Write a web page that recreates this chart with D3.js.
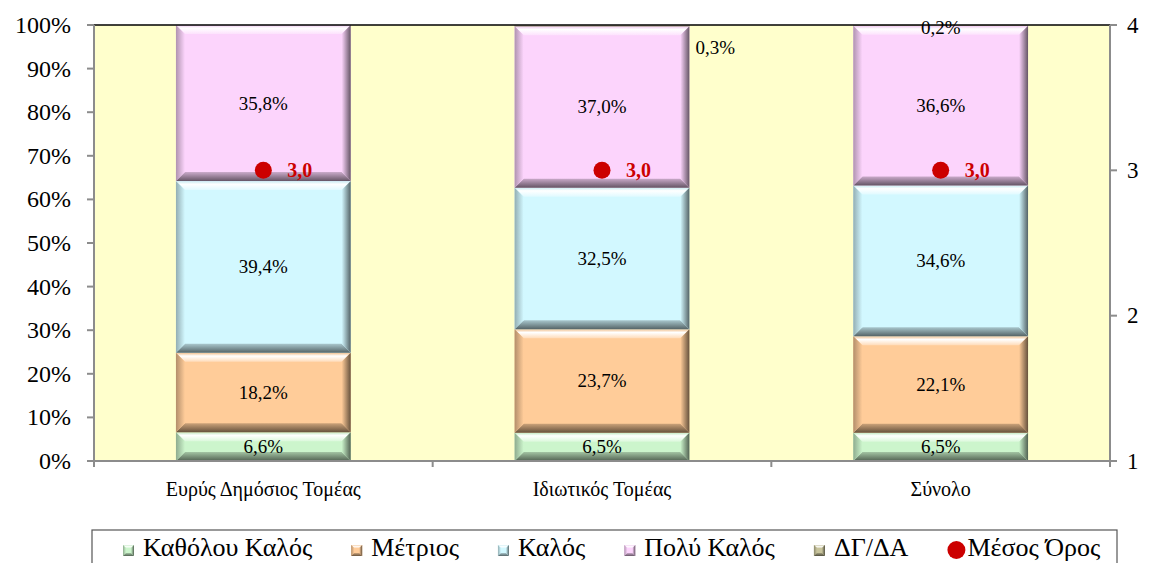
<!DOCTYPE html>
<html>
<head>
<meta charset="utf-8">
<script src="https://cdn.jsdelivr.net/npm/d3@7"></script>
<style>
  body { margin: 0; background: #fff; }
  text { font-family: "Liberation Serif", "Times New Roman", serif; }
</style>
</head>
<body>
<div class="container"></div>
<script>
// data
var categories = ['Ευρύς Δημόσιος Τομέας', 'Ιδιωτικός Τομέας', 'Σύνολο'];
var seriesNames = ['Καθόλου Καλός', 'Μέτριος', 'Καλός', 'Πολύ Καλός', 'ΔΓ/ΔΑ'];
var katholouKalos = [6.6, 6.5, 6.5];
var metrios = [18.2, 23.7, 22.1];
var kalos = [39.4, 32.5, 34.6];
var polyKalos = [35.8, 37.0, 36.6];
var dgda = [0, 0.3, 0.2];
var mesosOros = [3.0, 3.0, 3.0];
var meanName = 'Μέσος Όρος';
var leftTicks = [0, 10, 20, 30, 40, 50, 60, 70, 80, 90, 100];
var rightTicks = [1, 2, 3, 4];

var colors = ['#ccf5cc', '#ffcc99', '#d2f8ff', '#fcd4fc', '#c8c49c'];
var seriesValues = [katholouKalos, metrios, kalos, polyKalos, dgda];

var width = 1149, height = 563;
var m = { left: 94, right: 1110, top: 25, bottom: 461 };

var svg = d3.select('.container')
    .append('svg')
    .attr('width', width)
    .attr('height', height);

var defs = svg.append('defs');

var x = d3.scaleBand().domain(categories).range([m.left, m.right]).paddingInner(0).paddingOuter(0);
var y = d3.scaleLinear().domain([0, 100]).range([m.bottom, m.top]);
var y2 = d3.scaleLinear().domain([1, 4]).range([m.bottom, m.top]);
var barW = x.bandwidth() * 0.516;

// table for the stack
var table = categories.map(function(c, i) {
    var row = { cat: c };
    seriesNames.forEach(function(s, j) { row[s] = seriesValues[j][i]; });
    return row;
});
var stacked = d3.stack().keys(seriesNames)(table);

// bevel gradients
function mix(a, b, t) { return d3.interpolateRgb(a, b)(t); }
colors.forEach(function(c, i) {
    var g;
    g = defs.append('linearGradient').attr('id', 'top' + i).attr('x1', 0).attr('y1', 0).attr('x2', 0).attr('y2', 1);
    g.append('stop').attr('offset', 0).attr('stop-color', mix(c, '#000', 0.05));
    g.append('stop').attr('offset', 0.35).attr('stop-color', '#ffffff');
    g.append('stop').attr('offset', 1).attr('stop-color', mix(c, '#fff', 0.3));
    g = defs.append('linearGradient').attr('id', 'left' + i).attr('x1', 0).attr('y1', 0).attr('x2', 1).attr('y2', 0);
    g.append('stop').attr('offset', 0).attr('stop-color', mix(c, '#000', 0.3));
    g.append('stop').attr('offset', 1).attr('stop-color', c);
    g = defs.append('linearGradient').attr('id', 'right' + i).attr('x1', 0).attr('y1', 0).attr('x2', 1).attr('y2', 0);
    g.append('stop').attr('offset', 0).attr('stop-color', c);
    g.append('stop').attr('offset', 1).attr('stop-color', mix(c, '#000', 0.6));
    g = defs.append('linearGradient').attr('id', 'bot' + i).attr('x1', 0).attr('y1', 0).attr('x2', 0).attr('y2', 1);
    g.append('stop').attr('offset', 0).attr('stop-color', mix(c, '#000', 0.2));
    g.append('stop').attr('offset', 1).attr('stop-color', mix(c, '#000', 0.6));
});

// plot background
svg.append('rect')
    .attr('x', m.left).attr('y', m.top)
    .attr('width', m.right - m.left).attr('height', m.bottom - m.top)
    .attr('fill', '#ffffcc');

// bars
var gBars = svg.append('g');
stacked.forEach(function(layer, i) {
    layer.forEach(function(d, k) {
        var x0 = x(categories[k]) + (x.bandwidth() - barW) / 2;
        var x1 = x0 + barW;
        var y0 = y(d[1]), y1 = y(d[0]);
        var h = y1 - y0;
        if (h <= 0) return;
        var b = Math.min(9, h / 3);
        var g = gBars.append('g');
        g.append('rect').attr('x', x0).attr('y', y0).attr('width', barW).attr('height', h).attr('fill', colors[i]);
        var pts = {
            top: [[x0, y0], [x1, y0], [x1 - b, y0 + b], [x0 + b, y0 + b]],
            bot: [[x0, y1], [x1, y1], [x1 - b, y1 - b], [x0 + b, y1 - b]],
            left: [[x0, y0], [x0 + b, y0 + b], [x0 + b, y1 - b], [x0, y1]],
            right: [[x1, y0], [x1 - b, y0 + b], [x1 - b, y1 - b], [x1, y1]]
        };
        Object.keys(pts).forEach(function(s) {
            g.append('polygon')
                .attr('points', pts[s].map(function(p) { return p.join(','); }).join(' '))
                .attr('fill', 'url(#' + s + i + ')');
        });
    });
});

// bar labels
function fmt(v) { return v.toFixed(1).replace('.', ',') + '%'; }
var labelMode = [null, 'right', 'top'];
stacked.forEach(function(layer, i) {
    layer.forEach(function(d, k) {
        var v = seriesValues[i][k];
        if (!(v > 0)) return;
        var cx = x(categories[k]) + x.bandwidth() / 2;
        var lx = cx, ly = y((d[0] + d[1]) / 2), anchor = 'middle';
        if (i === 4) {
            if (labelMode[k] === 'right') { lx = cx + barW / 2 + 6; ly = y(d[1]) + 22; anchor = 'start'; }
            else { ly = y(d[1]) + 2; }
        }
        svg.append('text')
            .attr('x', lx).attr('y', ly)
            .attr('text-anchor', anchor)
            .attr('dominant-baseline', 'central')
            .attr('font-size', 19)
            .attr('fill', '#000')
            .text(fmt(v));
    });
});

// mean markers
categories.forEach(function(c, k) {
    var cx = x(c) + x.bandwidth() / 2;
    svg.append('circle').attr('cx', cx).attr('cy', y2(mesosOros[k])).attr('r', 8.5).attr('fill', '#cc0000');
    svg.append('text')
        .attr('x', cx + 24).attr('y', y2(mesosOros[k]))
        .attr('dominant-baseline', 'central')
        .attr('font-size', 20).attr('font-weight', 'bold')
        .attr('fill', '#cc0000')
        .text(mesosOros[k].toFixed(1).replace('.', ','));
});

// top border
svg.append('line').attr('x1', m.left).attr('x2', m.right).attr('y1', m.top).attr('y2', m.top)
    .attr('stroke', '#000').attr('stroke-width', 1.5);

// left axis
var axisCol = '#8c8c8c';
var gl = svg.append('g');
gl.append('line').attr('x1', m.left).attr('x2', m.left).attr('y1', m.top).attr('y2', m.bottom)
    .attr('stroke', axisCol).attr('stroke-width', 2);
leftTicks.forEach(function(t) {
    gl.append('line').attr('x1', m.left - 7).attr('x2', m.left).attr('y1', y(t)).attr('y2', y(t))
        .attr('stroke', axisCol).attr('stroke-width', 2);
    gl.append('text').attr('x', 71).attr('y', y(t)).attr('text-anchor', 'end')
        .attr('dominant-baseline', 'central').attr('font-size', 24).text(t + '%');
});

// right axis
var gr = svg.append('g');
gr.append('line').attr('x1', m.right).attr('x2', m.right).attr('y1', m.top).attr('y2', m.bottom)
    .attr('stroke', axisCol).attr('stroke-width', 2);
rightTicks.forEach(function(t) {
    gr.append('line').attr('x1', m.right).attr('x2', m.right + 7).attr('y1', y2(t)).attr('y2', y2(t))
        .attr('stroke', axisCol).attr('stroke-width', 2);
    gr.append('text').attr('x', 1127).attr('y', y2(t)).attr('text-anchor', 'start')
        .attr('dominant-baseline', 'central').attr('font-size', 23).text(t);
});

// bottom axis
var gb = svg.append('g');
gb.append('line').attr('x1', m.left).attr('x2', m.right).attr('y1', m.bottom).attr('y2', m.bottom)
    .attr('stroke', axisCol).attr('stroke-width', 2);
categories.concat([null]).forEach(function(c, k) {
    var tx = c ? x(c) : m.right;
    gb.append('line').attr('x1', tx).attr('x2', tx).attr('y1', m.bottom).attr('y2', m.bottom + 6)
        .attr('stroke', axisCol).attr('stroke-width', 2);
});
categories.forEach(function(c) {
    gb.append('text').attr('x', x(c) + x.bandwidth() / 2).attr('y', 489)
        .attr('text-anchor', 'middle').attr('dominant-baseline', 'central')
        .attr('font-size', 20).text(c);
});

// legend
var lg = svg.append('g');
lg.append('rect').attr('x', 92).attr('y', 530).attr('width', 1025).attr('height', 45)
    .attr('fill', '#fff').attr('stroke', '#555').attr('stroke-width', 1.2);
var lx = 123, ly = 547;
seriesNames.concat([meanName]).forEach(function(s, i) {
    if (i < 5) {
        var sx = lx, sy = ly - 2, sz = 11, bb = 3;
        lg.append('rect').attr('x', sx).attr('y', sy).attr('width', sz).attr('height', sz).attr('fill', colors[i]);
        lg.append('polygon').attr('points', [[sx, sy], [sx + sz, sy], [sx + sz - bb, sy + bb], [sx + bb, sy + bb]].join(' ')).attr('fill', 'url(#top' + i + ')');
        lg.append('polygon').attr('points', [[sx, sy], [sx + bb, sy + bb], [sx + bb, sy + sz - bb], [sx, sy + sz]].join(' ')).attr('fill', 'url(#left' + i + ')');
        lg.append('polygon').attr('points', [[sx + sz, sy], [sx + sz - bb, sy + bb], [sx + sz - bb, sy + sz - bb], [sx + sz, sy + sz]].join(' ')).attr('fill', 'url(#right' + i + ')');
        lg.append('polygon').attr('points', [[sx, sy + sz], [sx + sz, sy + sz], [sx + sz - bb, sy + sz - bb], [sx + bb, sy + sz - bb]].join(' ')).attr('fill', 'url(#bot' + i + ')');
    } else {
        lg.append('circle').attr('cx', lx + 9).attr('cy', ly + 3).attr('r', 9).attr('fill', '#cc0000');
    }
    var t = lg.append('text').attr('x', lx + 20).attr('y', ly)
        .attr('dominant-baseline', 'central').attr('font-size', 26).text(s);
    lx = lx + 20 + t.node().getComputedTextLength() + 39;
});
</script>
</body>
</html>
